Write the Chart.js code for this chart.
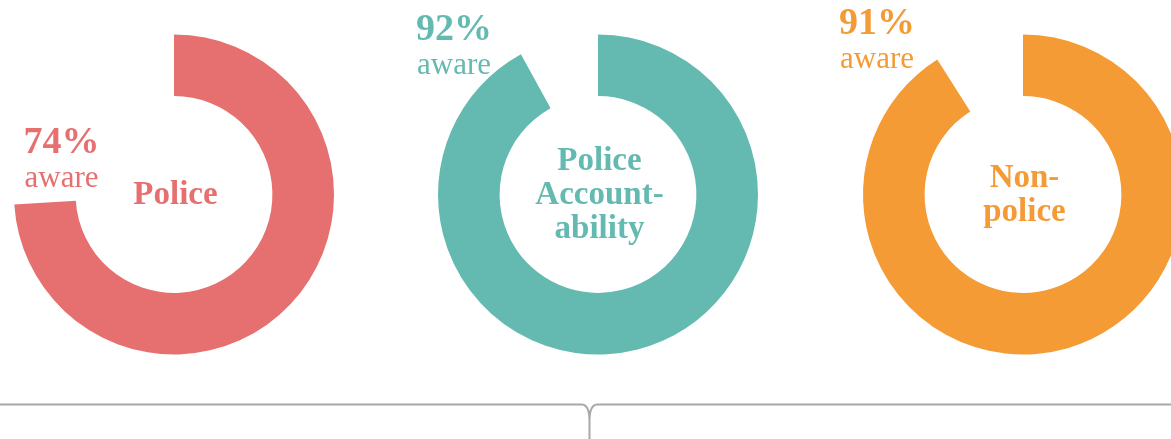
<!DOCTYPE html>
<html>
<head>
<meta charset="utf-8">
<script src="https://cdn.jsdelivr.net/npm/chart.js@4/dist/chart.umd.min.js"></script>
<style>
  html, body {
    margin: 0;
    padding: 0;
    background: #fff;
    width: 1171px;
    height: 439px;
    overflow: hidden;
    position: relative;
  }
  .ring {
    position: absolute;
    top: 0;
    width: 400px;
    height: 439px;
  }
  #brace {
    position: absolute;
    left: 0;
    top: 0;
  }
</style>
</head>
<body>
<svg id="brace" width="1171" height="439">
  <path d="M0 404.5 L582 404.5 Q589.5 405 589.5 421 L589.5 439 M1171 404.5 L597 404.5 Q589.5 405 589.5 421"
        fill="none" stroke="#a8a8a8" stroke-width="2"/>
</svg>

<script>
// Share of each group that is aware
const groups = ['Police', 'Police Accountability', 'Non-police'];
const awarePct = [74, 92, 91];
const centerLines = [['Police'], ['Police', 'Account-', 'ability'], ['Non-', 'police']];
const colors = ['#E6706F', '#64BAB0', '#F59B35'];

// Ring placement on the page and where the "xx% aware" note sits
const centersX = [174, 598, 1023];
const centerY = 194.5;
const outerR = 160;
const noteAnchor = [[61.5, 153], [454, 40], [877, 34]];

const FONT = '"Liberation Serif", "Times New Roman", serif';

const ringText = {
    id: 'ringText',
    afterDraw(chart) {
        const ctx = chart.ctx;
        const o = chart.options.plugins.ringText;
        const arc = chart.getDatasetMeta(0).data[0];
        const cx = arc.x, cy = arc.y;

        ctx.save();
        ctx.fillStyle = o.color;
        ctx.textAlign = 'center';
        ctx.textBaseline = 'alphabetic';

        // group name inside the hole
        ctx.font = 'bold 33px ' + FONT;
        const n = o.lines.length;
        o.lines.forEach((line, i) => {
            ctx.fillText(line, cx + 1.5, cy + 9.5 + (i - (n - 1) / 2) * 34);
        });

        // percentage note near the end of the arc
        const nx = o.note[0] - o.left;
        const ny = o.note[1];
        ctx.font = 'bold 38px ' + FONT;
        ctx.fillText(o.value + '%', nx, ny);
        ctx.font = '31px ' + FONT;
        ctx.fillText('aware', nx, ny + 33.5);
        ctx.restore();
    }
};

groups.forEach((name, i) => {
    const left = centersX[i] - 200;
    const box = document.createElement('div');
    box.className = 'ring';
    box.style.left = left + 'px';
    const canvas = document.createElement('canvas');
    box.appendChild(canvas);
    document.body.appendChild(box);

    new Chart(canvas, {
        type: 'doughnut',
        data: {
            labels: ['Aware', 'Not aware'],
            datasets: [{
                data: [awarePct[i], 100 - awarePct[i]],
                backgroundColor: [colors[i], 'rgba(0,0,0,0)'],
                borderWidth: 0,
                offset: 0,
                hoverOffset: 0
            }]
        },
        options: {
            responsive: true,
            maintainAspectRatio: false,
            animation: false,
            cutout: '61.5%',
            layout: {
                padding: {
                    left: 40,
                    right: 40,
                    top: centerY - outerR,
                    bottom: 439 - centerY - outerR
                }
            },
            events: [],
            plugins: {
                legend: { display: false },
                tooltip: { enabled: false },
                ringText: {
                    color: colors[i],
                    lines: centerLines[i],
                    value: awarePct[i],
                    note: noteAnchor[i],
                    left: left
                }
            }
        },
        plugins: [ringText]
    });
});
</script>
</body>
</html>
